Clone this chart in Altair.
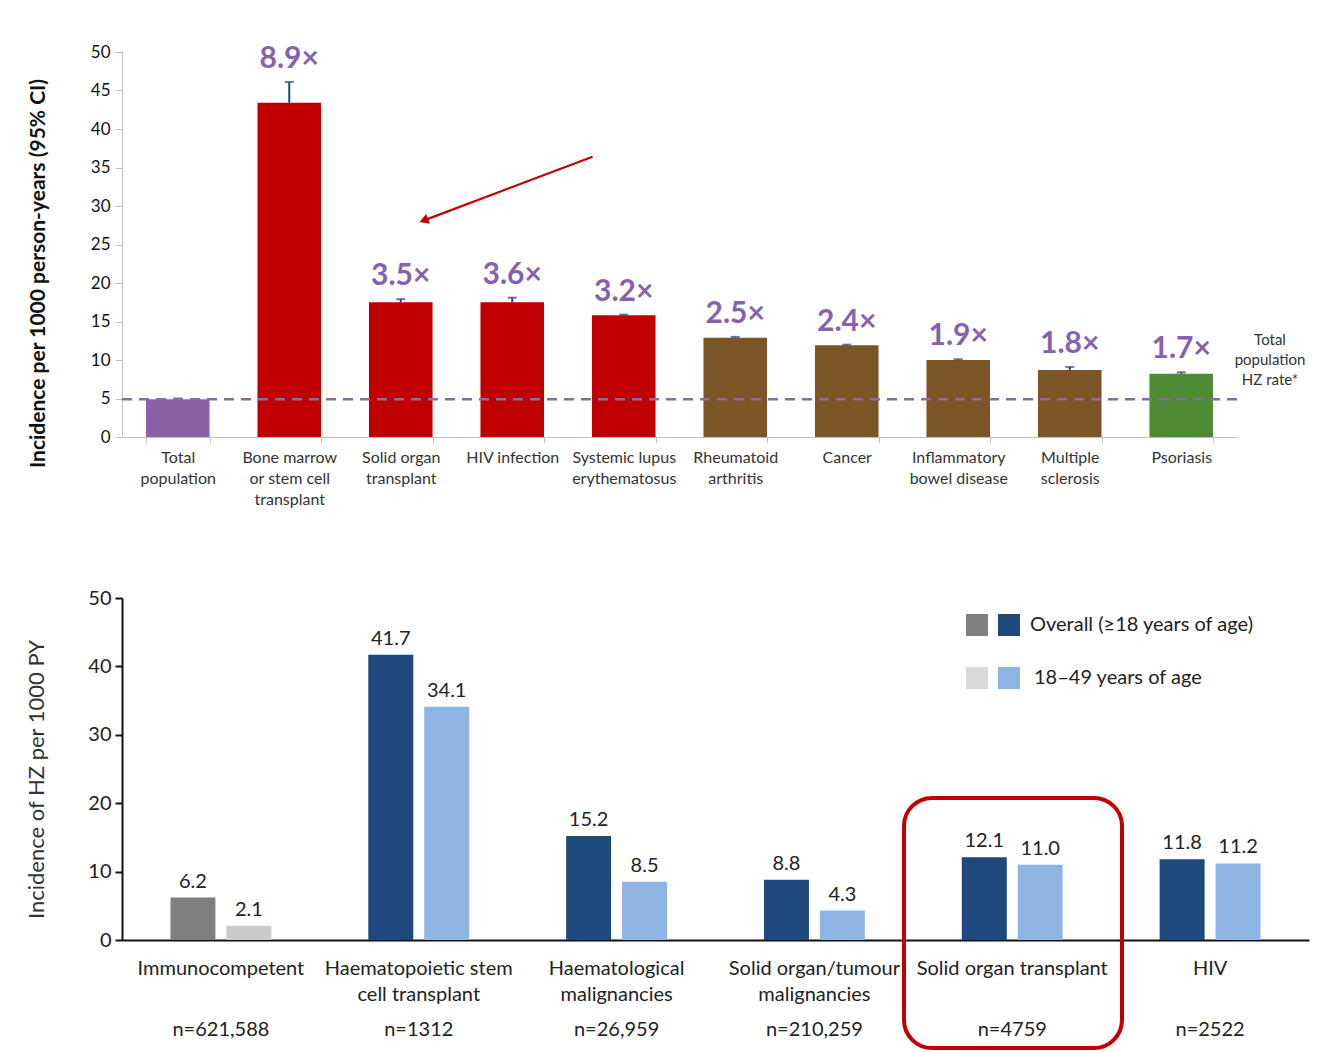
import altair as alt
import pandas as pd

# ---------------- Top chart data ----------------
top_cats = ["Total|population", "Bone marrow|or stem cell|transplant", "Solid organ|transplant",
            "HIV infection", "Systemic lupus|erythematosus", "Rheumatoid|arthritis", "Cancer",
            "Inflammatory|bowel disease", "Multiple|sclerosis", "Psoriasis"]
top_values = [4.9, 43.4, 17.5, 17.5, 15.8, 12.9, 11.9, 10.0, 8.7, 8.2]
top_upper = [5.0, 46.1, 17.9, 18.1, 15.9, 13.0, 12.0, 10.1, 9.1, 8.4]
top_ratio = ["", "8.9×", "3.5×", "3.6×", "3.2×", "2.5×", "2.4×", "1.9×", "1.8×", "1.7×"]
top_group = ["total", "red", "red", "red", "red", "brown", "brown", "brown", "brown", "green"]
total_rate = 4.9

# arrow annotation (category-index units, incidence units)
arrow_x = [4.22]
arrow_y = [36.4]
arrow_x2 = [2.72]
arrow_y2 = [28.2]

# ---------------- Bottom chart data ----------------
bot_cats = ["Immunocompetent", "Haematopoietic stem|cell transplant", "Haematological|malignancies",
            "Solid organ/tumour|malignancies", "Solid organ transplant", "HIV"]
bot_n = ["n=621,588", "n=1312", "n=26,959", "n=210,259", "n=4759", "n=2522"]
overall = [6.2, 41.7, 15.2, 8.8, 12.1, 11.8]
young = [2.1, 34.1, 8.5, 4.3, 11.0, 11.2]
series_names = ["Overall (≥18 years of age)", "18–49 years of age"]

FONT = "Lato"
TW, TH = 1115, 385
BW, BH = 1187, 342

top_df = pd.DataFrame({"cat": top_cats, "value": top_values, "upper": top_upper,
                       "ratio": top_ratio, "group": top_group})

xaxis_top = alt.Axis(title=None, labelAngle=0, labelExpr="split(datum.label, '|')",
                     labelFont=FONT, labelFontSize=16, labelColor="#333333",
                     labelLineHeight=21, labelPadding=6, tickBand="extent",
                     tickColor="#BFBFBF", domainColor="#BFBFBF", tickSize=6,
                     labelBaseline="top", labelLimit=300)
xscale_top = alt.Scale(paddingInner=0.43, paddingOuter=0.215)
xt = alt.X("cat:N", sort=top_cats, scale=xscale_top, axis=xaxis_top)
yscale = alt.Scale(domain=[0, 50], nice=False)
yaxis_top = alt.Axis(title="Incidence per 1000 person-years (95% CI)", values=list(range(0, 55, 5)),
                     grid=False, titleFont=FONT, titleFontSize=21, titleFontWeight="bold",
                     titleColor="#111111", labelFont=FONT, labelFontSize=17, labelColor="#111111",
                     tickColor="#BFBFBF", domainColor="#BFBFBF", tickSize=7, labelPadding=5,
                     titlePadding=42, titleY=221, labelOverlap=False)


def ytop(field):
    return alt.Y(field, type="quantitative", scale=yscale, axis=yaxis_top)


base_top = alt.Chart(top_df)
bars_top = base_top.mark_bar().encode(
    x=xt, y=ytop("value"),
    color=alt.Color("group:N", scale=alt.Scale(domain=["total", "red", "brown", "green"],
                                               range=["#8B62A8", "#C00000", "#7B5526", "#4F8A34"]),
                    legend=None))
err_rule = base_top.mark_rule(color="#1F497D", strokeWidth=2).encode(
    x=xt, y=ytop("value"), y2="upper:Q")
err_cap = base_top.mark_tick(color="#1F497D", thickness=2, size=9, orient="horizontal").encode(
    x=xt, y=ytop("upper"))
ratio_text = base_top.mark_text(font=FONT, fontSize=30, fontWeight="bold", color="#8562AB",
                                baseline="alphabetic", dy=-14).encode(
    x=xt, y=ytop("upper"), text="ratio:N")
dash = alt.Chart(pd.DataFrame({"value": [total_rate]})).mark_rule(
    color="#8C68AD", strokeDash=[10, 7], strokeWidth=2.5).encode(y=ytop("value"))
side_text = alt.Chart(pd.DataFrame({"value": [total_rate]})).mark_text(
    text=["Total", "population", "HZ rate*"], font=FONT, fontSize=15, color="#333333",
    lineHeight=20, align="center", baseline="middle").encode(
    x=alt.value(TW + 33), y=alt.value(288))

arrow_df = pd.DataFrame({"x": arrow_x, "value": arrow_y, "x2": arrow_x2, "value2": arrow_y2})
ax_scale = alt.Scale(domain=[0, 10], nice=False)
arrow_line = alt.Chart(arrow_df).mark_rule(color="#C00000", strokeWidth=2.2).encode(
    x=alt.X("x:Q", scale=ax_scale, axis=None), y=ytop("value"), x2="x2:Q", y2="value2:Q")
arrow_head = alt.Chart(arrow_df).mark_point(shape="triangle", filled=True, color="#C00000",
                                            opacity=1, size=110, angle=249).encode(
    x=alt.X("x2:Q", scale=ax_scale, axis=None), y=ytop("value2"))

top_main = alt.layer(bars_top, err_rule, err_cap, ratio_text, dash, side_text)
top_chart = alt.layer(top_main, arrow_line, arrow_head).resolve_scale(x="independent").properties(
    width=TW, height=TH)

# ---------------- Bottom chart ----------------
rows = []
for i, c in enumerate(bot_cats):
    ic = (i == 0)
    rows.append({"cat": c, "series": series_names[0], "value": overall[i],
                 "key": "ic_o" if ic else "o", "label": f"{overall[i]:.1f}"})
    rows.append({"cat": c, "series": series_names[1], "value": young[i],
                 "key": "ic_y" if ic else "y", "label": f"{young[i]:.1f}"})
bot_df = pd.DataFrame(rows)
n_df = pd.DataFrame({"cat": bot_cats, "n": bot_n})

xb = alt.X("cat:N", sort=bot_cats,
           scale=alt.Scale(paddingInner=0.49, paddingOuter=0.245),
           axis=alt.Axis(title=None, labelAngle=0, labelExpr="split(datum.label, '|')",
                         labelFont=FONT, labelFontSize=20, labelColor="#222222",
                         labelLineHeight=26, labelPadding=18, ticks=False,
                         domainColor="#111111", domainWidth=2, labelBaseline="top",
                         labelLimit=400))
xo = alt.XOffset("series:N", sort=series_names, scale=alt.Scale(paddingInner=0.196, paddingOuter=0))
yb = alt.Y("value:Q", scale=alt.Scale(domain=[0, 50], nice=False),
           axis=alt.Axis(title="Incidence of HZ per 1000 PY", values=list(range(0, 60, 10)), grid=False,
                         titleFont=FONT, titleFontSize=22, titleFontWeight="normal", titleColor="#333333",
                         labelFont=FONT, labelFontSize=20, labelColor="#222222",
                         tickColor="#111111", domainColor="#111111", domainWidth=2, tickWidth=2,
                         tickSize=7, labelPadding=4, titlePadding=39, titleY=181))

bbase = alt.Chart(bot_df)
bars_bot = bbase.mark_bar().encode(
    x=xb, xOffset=xo, y=yb,
    color=alt.Color("key:N", scale=alt.Scale(domain=["ic_o", "ic_y", "o", "y"],
                                             range=["#7F7F7F", "#CBCBCB", "#1F497D", "#8EB4E3"]),
                    legend=None))
val_text = bbase.mark_text(font=FONT, fontSize=20, color="#222222", baseline="alphabetic", dy=-10).encode(
    x=xb, xOffset=xo, y=yb, text="label:N")
n_text = alt.Chart(n_df).mark_text(font=FONT, fontSize=20, color="#222222", baseline="middle").encode(
    x=xb, y=alt.value(BH + 90), text="n:N")

leg_df = pd.DataFrame({"v": [0]})
leg_layers = []
for yv, c1, c2, txt, tx in [(27, "#7F7F7F", "#1F497D", series_names[0], 908),
                            (80, "#D9D9D9", "#8EB4E3", series_names[1], 912)]:
    leg_layers.append(alt.Chart(leg_df).mark_square(size=484, color=c1, opacity=1).encode(
        x=alt.value(855), y=alt.value(yv)))
    leg_layers.append(alt.Chart(leg_df).mark_square(size=484, color=c2, opacity=1).encode(
        x=alt.value(887), y=alt.value(yv)))
    leg_layers.append(alt.Chart(leg_df).mark_text(text=txt, font=FONT, fontSize=20, color="#222222",
                                                  align="left", baseline="middle").encode(
        x=alt.value(tx), y=alt.value(yv)))

box = alt.Chart(leg_df).mark_rect(fillOpacity=0, stroke="#C00000", strokeWidth=4, cornerRadius=28).encode(
    x=alt.value(782), x2=alt.value(1000), y=alt.value(200), y2=alt.value(450))

bottom_chart = alt.layer(bars_bot, val_text, n_text, *leg_layers, box).properties(width=BW, height=BH)

chart = alt.vconcat(top_chart, bottom_chart, spacing=81).resolve_scale(
    x="independent", y="independent", color="independent"
).resolve_axis(x="independent", y="independent").properties(
    padding={"top": 35, "left": 17, "right": 5, "bottom": 0}
).configure(font=FONT, background="white").configure_view(stroke="transparent", strokeWidth=0)

chart.save("out.html", embed_options={"renderer": "svg", "actions": False})
